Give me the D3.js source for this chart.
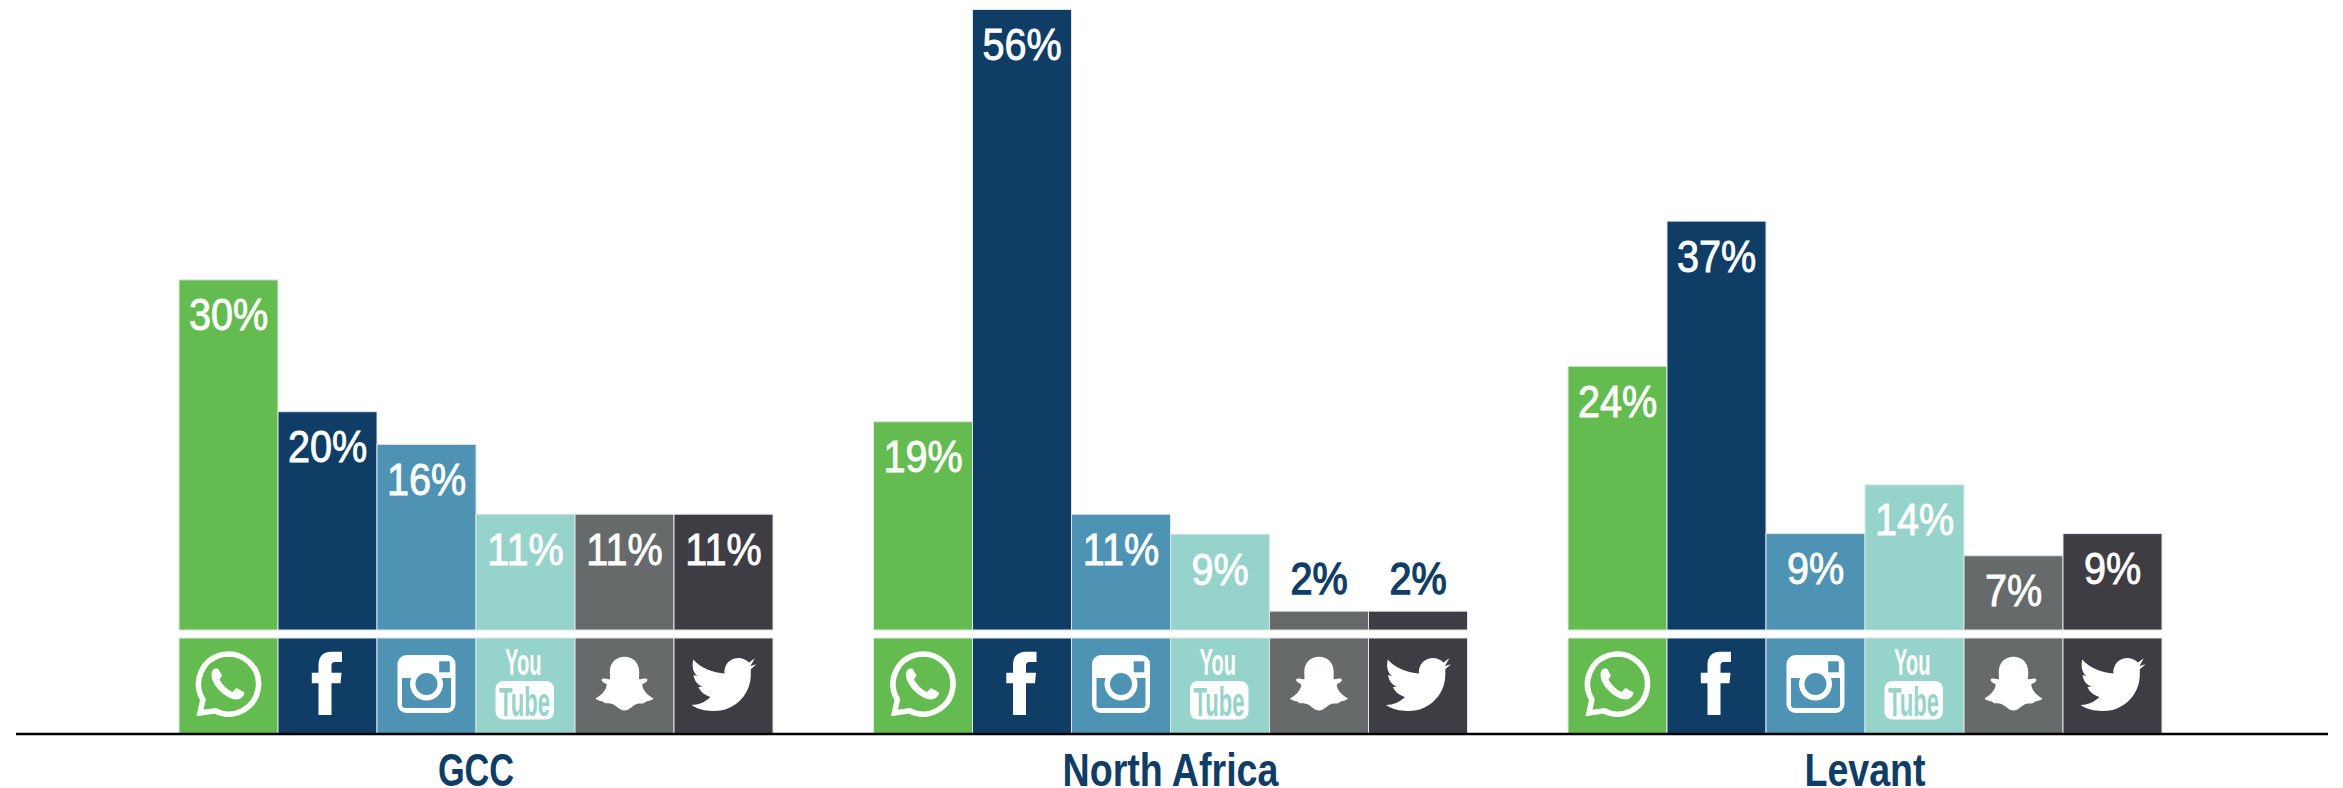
<!DOCTYPE html>
<html>
<head>
<meta charset="utf-8">
<script src="https://cdn.jsdelivr.net/npm/d3@7"></script>
<style>
  html, body { margin: 0; padding: 0; background: #fff; }
  svg { display: block; }
  text { font-family: "Liberation Sans", Arial, sans-serif; }
</style>
</head>
<body>
<div id="chart"></div>
<script>
const width = 2343
const height = 788
const margin = { top: 9.5, barBottom: 630, iconTop: 638, axis: 734, left: 179, right: 2162 }

// Data (bar heights are not quite the printed labels)
const regions = ["GCC", "North Africa", "Levant"]
const platforms = ["WhatsApp", "Facebook", "Instagram", "YouTube", "Snapchat", "Twitter"]
const gccValues = [31.6, 19.7, 16.75, 10.45, 10.45, 10.45]
const northAfricaValues = [18.8, 56, 10.45, 8.65, 1.7, 1.7]
const levantValues = [23.8, 36.9, 8.7, 13.1, 6.7, 8.7]
const gccLabels = ["30%", "20%", "16%", "11%", "11%", "11%"]
const northAfricaLabels = ["19%", "56%", "11%", "9%", "2%", "2%"]
const levantLabels = ["24%", "37%", "9%", "14%", "7%", "9%"]
const colors = ["#64bc50", "#0f3d66", "#4e93b3", "#96d3ca", "#666a6b", "#3e3d43"]
const navy = "#0f3d66"

const allValues = [gccValues, northAfricaValues, levantValues]
const allLabels = [gccLabels, northAfricaLabels, levantLabels]

const svg = d3.select("#chart").append("svg")
  .attr("width", width)
  .attr("height", height)

// Scales
const x0 = d3.scaleBand().domain(regions).range([margin.left, margin.right]).paddingInner(0.1447)
const x1 = d3.scaleBand().domain(platforms).range([0, x0.bandwidth()])
const y = d3.scaleLinear().domain([0, 56]).range([margin.barBottom, margin.top])
const color = d3.scaleOrdinal().domain(platforms).range(colors)

const rows = regions.flatMap((region, i) => platforms.map((platform, j) => ({
  region, platform, value: allValues[i][j], label: allLabels[i][j]
})))

const cellX = d => x0(d.region) + x1(d.platform)
const cellMid = d => cellX(d) + x1.bandwidth() / 2
const isTall = d => margin.barBottom - y(d.value) > 40

// Bars
svg.append("g").attr("id", "bars").selectAll("rect").data(rows)
  .join("rect")
  .attr("x", cellX)
  .attr("y", d => y(d.value))
  .attr("width", x1.bandwidth())
  .attr("height", d => margin.barBottom - y(d.value))
  .attr("fill", d => color(d.platform))
  .attr("stroke", "#dfe6e6")
  .attr("stroke-width", 1)

// Labels go inside the bar, except when the bar is too short
svg.append("g").attr("id", "labels").selectAll("text").data(rows)
  .join("text")
  .attr("transform", d => `translate(${cellMid(d)}, ${y(d.value) + (isTall(d) ? 50.5 : -17)}) scale(0.88, 1)`)
  .attr("text-anchor", "middle")
  .attr("font-size", 45)
  .attr("fill", d => isTall(d) ? "#fff" : navy)
  .attr("stroke", d => isTall(d) ? "#fff" : navy)
  .attr("stroke-width", d => isTall(d) ? 0.9 : 1.4)
  .text(d => d.label)

// Icon strip
const iconCells = svg.append("g").attr("id", "icons").selectAll("g").data(rows)
  .join("g")
  .attr("transform", d => `translate(${cellX(d)}, ${margin.iconTop})`)

iconCells.append("rect")
  .attr("width", x1.bandwidth())
  .attr("height", margin.axis - margin.iconTop)
  .attr("fill", d => color(d.platform))
  .attr("stroke", "#dfe6e6")
  .attr("stroke-width", 1)

const icon = iconCells.append("g")
  .attr("transform", `translate(${x1.bandwidth() / 2}, 46)`)

const drawIcon = {
  WhatsApp(g) {
    g.append("path")
      .attr("d", "M-13.5 26.8A30 30 0 1 0-25.6 15.6L-28.5 29Z")
      .attr("fill", "none").attr("stroke", "#fff").attr("stroke-width", 5.5)
    g.append("path")
      .attr("d", "M-13.5 -15.5L-10.5 -15.5L-6.5 -8.5L-9 -4.5C-6 1 -1 6 4 8L8 4L16 8.5C16 12 12 15.5 8 15.5C-3 15 -17 1 -17 -9C-17 -12 -16 -14.5 -13.5 -15.5Z")
      .attr("fill", "#fff")
  },
  Facebook(g) {
    g.append("path")
      .attr("d", "M4 31H-9V-0.7H-15.7V-11.3H-9V-19C-9 -28 -4 -32.3 4 -32.3H14.5V-22H8C5 -22 4 -21 4 -18V-11.3H14L13 -0.7H4Z")
      .attr("fill", "#fff")
  },
  Instagram(g, fill) {
    g.append("rect").attr("x", -29).attr("y", -29).attr("width", 58).attr("height", 58).attr("rx", 9).attr("fill", "#fff")
    g.append("path").attr("d", "M-24.5 -6H24.5V21Q24.5 24 21.5 24H-21.5Q-24.5 24 -24.5 21Z").attr("fill", fill)
    g.append("circle").attr("r", 16.5).attr("fill", "#fff")
    g.append("circle").attr("r", 11).attr("fill", fill)
    g.append("rect").attr("x", 12.7).attr("y", -22.7).attr("width", 10.6).attr("height", 11).attr("fill", fill)
  },
  YouTube(g, fill) {
    g.append("text").text("You").attr("x", -20.5).attr("y", -8.7)
      .attr("font-size", 36).attr("font-weight", "bold").attr("fill", "#fff")
      .attr("textLength", 36.5).attr("lengthAdjust", "spacingAndGlyphs")
    g.append("rect").attr("x", -30).attr("y", -3).attr("width", 58.5).attr("height", 38.5).attr("rx", 8).attr("fill", "#fff")
    g.append("text").text("Tube").attr("x", -26.5).attr("y", 31.5)
      .attr("font-size", 40).attr("font-weight", "bold").attr("fill", fill)
      .attr("textLength", 51).attr("lengthAdjust", "spacingAndGlyphs")
  },
  Snapchat(g) {
    g.append("path")
      .attr("d", "M0 -27.3C9 -27.3 14.7 -21 14.7 -12L14.5 -5C17 -4 20 -6.5 22.5 -5C24 -3.5 21 -1 18 0C17 4 22 11 29 14.5C27 17 23 16.5 21 18C19 20.5 15 19 12 20C8 21.5 5 26.5 0 26.5C-5 26.5 -8 21.5 -12 20C-15 19 -19 20.5 -21 18C-23 16.5 -27 17 -29 14.5C-22 11 -17 4 -18 0C-21 -1 -24 -3.5 -22.5 -5C-20 -6.5 -17 -4 -14.5 -5L-14.7 -12C-14.7 -21 -9 -27.3 0 -27.3Z")
      .attr("fill", "#fff")
  },
  Twitter(g) {
    g.append("path")
      .attr("d", "M31.3 -25.7L25.5 -21.5C20 -27 12 -27.5 6 -23C2 -19.5 0.5 -15 1 -10.5C-10 -11 -23 -16 -30.3 -24.5C-31.5 -18 -31 -12 -26 -8L-30 -9C-29 -3 -26 1 -21 2.5L-25 3C-23 8 -19 11 -13 13C-18 18 -25 21 -32 21C-23 27 -12 28 0 26C17 21 27 7 27.3 -9L27.3 -14.7L33 -19.7L27 -18Z")
      .attr("fill", "#fff")
  },
}

icon.each(function (d) {
  drawIcon[d.platform](d3.select(this), color(d.platform))
})

// Base line
svg.append("line")
  .attr("x1", 16)
  .attr("x2", 2328)
  .attr("y1", margin.axis)
  .attr("y2", margin.axis)
  .attr("stroke", "#000")
  .attr("stroke-width", 2.5)

// Region names, GCC runs a little narrower in the original type
svg.append("g").attr("id", "regions").selectAll("text").data(regions)
  .join("text")
  .attr("transform", d => `translate(${x0(d) + x0.bandwidth() / 2}, 786) scale(${d === "GCC" ? 0.73 : 0.8}, 1)`)
  .attr("text-anchor", "middle")
  .attr("font-size", 47)
  .attr("font-weight", "bold")
  .attr("fill", navy)
  .text(d => d)
</script>
</body>
</html>
